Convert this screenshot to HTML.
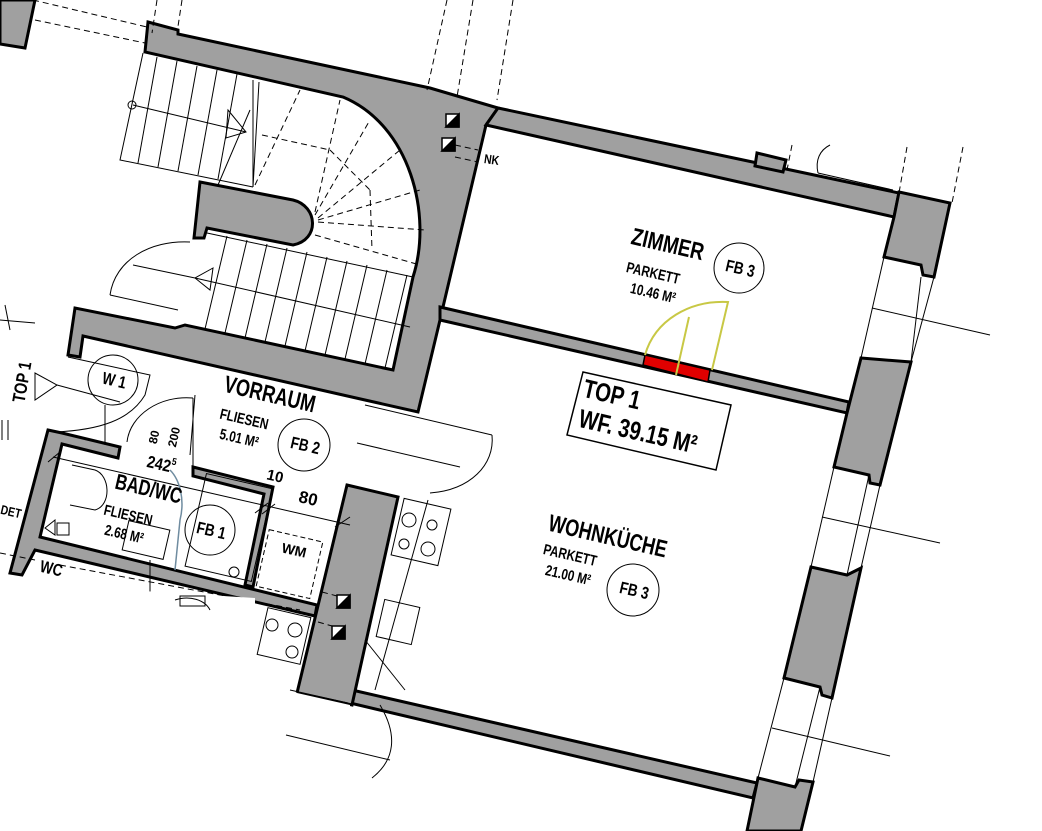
<!DOCTYPE html>
<html><head><meta charset="utf-8"><style>
html,body{margin:0;padding:0;background:#fff;}
svg{display:block;}
text{font-family:"Liberation Sans Narrow","Liberation Sans",sans-serif;font-weight:bold;fill:#000;}
</style></head><body>
<svg width="1042" height="831" viewBox="0 0 1042 831" xmlns="http://www.w3.org/2000/svg">
<g fill="#a0a0a0" stroke="#000" stroke-width="3" stroke-linejoin="miter">
<polygon points="0,0 35,0 25,48 0,44"/>
<path d="M148,22 L178,30 L178,34 L430,88 L498,108 L486,125 L443,307 L440,320 L418,412 L365,400 L83,336 L80,357 L68,355 L75,308 L175,328 L185,325 L393,370 L413,277 C433,215 410,125 343,97 L145,52 Z"/>
<polygon points="498,108 899,193 894,217 486,125"/>
<polygon points="899,192 950,203 934,277 923,275 921,265 884,257 894,217"/>
<polygon points="440,307 849,402 847,413 440,320"/>
<polygon points="861,358 911,362 880,485 870,483 869,475 834,467 847,413"/>
<polygon points="811,567 847,575 861,568 832,698 822,695 820,687 784,678"/>
<polygon points="352,690 757,783 753,798 350,703"/>
<polygon points="758,778 795,787 799,780 813,782 801,831 747,831"/>
<path d="M200,182 L293,200 C318,206 320,240 293,245 L207,228 L204,238 L194,238 Z"/>
<polygon points="347,485 398,497 352,705 297,693"/>
<polygon points="48,430 62,433 120,447 118,458 62,444 40,537 317,605 315,616 35,550 22,575 10,573"/>
<polygon points="193,467 273,487 253,587 245,585 264,494 193,476"/>
<polygon points="757,153 786,160 783,172 755,166"/>
</g>
<g stroke="#000" stroke-width="1.5">
<rect x="446" y="114" width="13" height="13" fill="#fff"/><polygon points="446,127 459,114 459,127" fill="#000"/>
<rect x="442" y="138" width="13" height="13" fill="#fff"/><polygon points="442,151 455,138 455,151" fill="#000"/>
<rect x="337" y="595" width="13" height="13" fill="#fff"/><polygon points="337,608 350,595 350,608" fill="#000"/>
<rect x="332" y="626" width="13" height="13" fill="#fff"/><polygon points="332,639 345,626 345,639" fill="#000"/>
</g>
<polygon points="645,355 710,370 708,382 643,365" fill="#e00000" stroke="#000" stroke-width="1.5"/>
<g fill="none" stroke="#c8c845" stroke-width="2">
<path d="M645,355 C655,320 690,300 728,302 L712,370"/>
<line x1="689" y1="317" x2="676" y2="375"/>
</g>
<g fill="none" stroke="#000" stroke-width="1">
<polyline points="143,53 120,160 253,187"/>
<line x1="157" y1="57" x2="138" y2="163"/><line x1="177" y1="61" x2="158" y2="167"/>
<line x1="197" y1="66" x2="178" y2="171"/><line x1="217" y1="70" x2="198" y2="175"/>
<line x1="237" y1="74" x2="218" y2="179"/><line x1="253" y1="80" x2="253" y2="187"/>
<line x1="259" y1="82" x2="253" y2="187"/>
<line x1="133" y1="105" x2="246" y2="132"/><polygon points="228,110 246,132 226,138"/>
<circle cx="132" cy="105" r="4"/>
<line x1="250" y1="110" x2="218" y2="185"/>
<line x1="207" y1="233" x2="413" y2="277"/>
<line x1="227" y1="236" x2="205" y2="329"/><line x1="247" y1="240" x2="225" y2="333"/>
<line x1="267" y1="244" x2="245" y2="338"/><line x1="287" y1="248" x2="265" y2="342"/>
<line x1="307" y1="252" x2="285" y2="346"/><line x1="327" y1="257" x2="305" y2="351"/>
<line x1="347" y1="261" x2="325" y2="355"/><line x1="367" y1="265" x2="345" y2="359"/>
<line x1="387" y1="270" x2="365" y2="364"/><line x1="407" y1="275" x2="385" y2="368"/>
<line x1="195" y1="278" x2="410" y2="327"/><polygon points="213,268 195,278 210,290"/>
<path d="M110,295 C115,260 150,240 190,242"/><line x1="110" y1="295" x2="178" y2="310"/>
<line x1="133" y1="265" x2="195" y2="278"/>
<line x1="365" y1="405" x2="492" y2="435"/><path d="M492,435 C495,465 470,490 430,493"/>
<line x1="357" y1="443" x2="460" y2="467"/>
<path d="M127,442 C130,415 160,395 193,398"/><line x1="193" y1="398" x2="193" y2="468"/>
<path d="M68,357 L150,375 L145,395 C130,420 100,430 55,432"/>
<line x1="105" y1="405" x2="105" y2="445"/>
<polygon points="35,373 35,400 57,385"/><line x1="57" y1="385" x2="120" y2="402"/>
<line x1="5" y1="305" x2="10" y2="330"/><line x1="0" y1="320" x2="35" y2="323"/>
<line x1="2" y1="420" x2="2" y2="440"/><line x1="8" y1="420" x2="8" y2="440"/>
<line x1="53" y1="457" x2="350" y2="525"/>
<line x1="48" y1="462" x2="60" y2="452"/><line x1="255" y1="513" x2="268" y2="503"/>
<line x1="262" y1="514" x2="275" y2="504"/><line x1="335" y1="527" x2="350" y2="517"/>
<line x1="195" y1="395" x2="190" y2="455"/>
<rect x="195" y="480" width="68" height="95" transform="rotate(13 229 527)"/>
<circle cx="234" cy="572" r="5"/>
<path d="M72,465 L95,470 C110,475 112,505 95,510 L70,505"/>
<rect x="125" y="525" width="42" height="30" transform="rotate(13 146 540)"/>
<polygon points="45,528 55,520 55,535"/>
<rect x="57" y="523" width="12" height="12"/>
<path d="M170,470 C180,480 185,500 180,520 L175,570" stroke="#6f8ca0" stroke-width="1.5"/>
<rect x="262" y="535" width="55" height="58" stroke-dasharray="5,3" transform="rotate(13 289 564)"/>
<rect x="397" y="503" width="48" height="58" transform="rotate(13 421 532)"/>
<circle cx="409" cy="520" r="7"/><circle cx="432" cy="525" r="5"/><circle cx="404" cy="544" r="5"/><circle cx="428" cy="549" r="7"/>
<rect x="380" y="603" width="36" height="38" transform="rotate(13 398 622)"/>
<polyline points="428,500 375,690"/>
<polyline points="365,640 405,690"/>
<g stroke-dasharray="6,4">
<line x1="315" y1="212" x2="340" y2="100"/><line x1="315" y1="215" x2="370" y2="120"/>
<line x1="318" y1="218" x2="400" y2="150"/><line x1="318" y1="220" x2="420" y2="190"/>
<line x1="318" y1="222" x2="425" y2="230"/><line x1="315" y1="235" x2="420" y2="265"/>
<line x1="262" y1="135" x2="330" y2="150"/><line x1="330" y1="150" x2="370" y2="190"/>
<line x1="370" y1="190" x2="372" y2="250"/>
<line x1="255" y1="185" x2="300" y2="90"/>
<line x1="33" y1="0" x2="147" y2="27"/><line x1="35" y1="20" x2="145" y2="43"/>
<line x1="157" y1="0" x2="152" y2="33"/><line x1="182" y1="0" x2="177" y2="33"/>
<line x1="447" y1="0" x2="427" y2="90"/><line x1="473" y1="0" x2="457" y2="97"/><line x1="513" y1="0" x2="497" y2="100"/>
<line x1="907" y1="147" x2="899" y2="193"/><line x1="963" y1="147" x2="952" y2="203"/>
<line x1="792" y1="145" x2="787" y2="170"/>
<line x1="455" y1="145" x2="478" y2="150"/><line x1="455" y1="157" x2="478" y2="162"/>
<line x1="322" y1="592" x2="337" y2="596"/><line x1="318" y1="622" x2="332" y2="626"/>
<line x1="0" y1="553" x2="35" y2="560"/>
<line x1="60" y1="565" x2="300" y2="610"/>
</g>
<path d="M818,173 C815,160 820,150 830,145"/><line x1="818" y1="173" x2="893" y2="190"/>
<line x1="884" y1="257" x2="861" y2="358"/><line x1="921" y1="277" x2="911" y2="362"/>
<line x1="934" y1="277" x2="911" y2="362"/>
<line x1="872" y1="308" x2="990" y2="335"/>
<line x1="834" y1="467" x2="811" y2="567"/><line x1="869" y1="475" x2="847" y2="575"/><line x1="880" y1="485" x2="861" y2="568"/>
<line x1="822" y1="517" x2="940" y2="543"/>
<line x1="784" y1="678" x2="758" y2="778"/><line x1="820" y1="687" x2="795" y2="787"/><line x1="832" y1="698" x2="813" y2="782"/>
<line x1="772" y1="728" x2="890" y2="756"/>
<polygon points="583,372 731,405 716,470 567,435" stroke-width="1.5"/>
<circle cx="739" cy="268" r="25"/><circle cx="633" cy="590" r="26"/>
<circle cx="304" cy="445" r="26"/><circle cx="210" cy="530" r="25"/><circle cx="113" cy="380" r="25"/>
<line x1="150" y1="560" x2="150" y2="600"/>
</g>
<polygon points="0,582 255,598 255,665 297,693 350,705 345,831 0,831" fill="#fff"/>
<g stroke="#000" fill="none" stroke-width="1">
<rect x="262" y="612" width="44" height="48" transform="rotate(13 284 636)"/>
<circle cx="272" cy="625" r="6"/><circle cx="295" cy="630" r="7"/><circle cx="292" cy="652" r="6"/>
<path d="M175,600 C190,595 205,600 210,610"/><rect x="180" y="596" width="25" height="10"/>
<line x1="290" y1="690" x2="348" y2="703"/>
<path d="M380,705 C398,735 395,760 372,778"/><line x1="286" y1="735" x2="390" y2="760"/>
</g>
<g transform="translate(666,252) rotate(13)"><text text-anchor="middle" font-size="24" transform="scale(.78,1)">ZIMMER</text></g>
<g transform="translate(652,278) rotate(13)"><text text-anchor="middle" font-size="15" transform="scale(.78,1)" font-weight="normal">PARKETT</text></g>
<g transform="translate(652,298) rotate(13)"><text text-anchor="middle" font-size="15" transform="scale(.78,1)" font-weight="normal">10.46 M²</text></g>
<g transform="translate(739,274) rotate(13)"><text text-anchor="middle" font-size="17" transform="scale(.8,1)">FB 3</text></g>
<g transform="translate(610,403) rotate(13)"><text text-anchor="middle" font-size="26" transform="scale(.78,1)">TOP 1</text></g>
<g transform="translate(636,440) rotate(13)"><text text-anchor="middle" font-size="26" transform="scale(.78,1)">WF. 39.15 M²</text></g>
<g transform="translate(606,544) rotate(13)"><text text-anchor="middle" font-size="24" transform="scale(.75,1)">WOHNKÜCHE</text></g>
<g transform="translate(569,560) rotate(13)"><text text-anchor="middle" font-size="15" transform="scale(.78,1)" font-weight="normal">PARKETT</text></g>
<g transform="translate(567,580) rotate(13)"><text text-anchor="middle" font-size="15" transform="scale(.78,1)" font-weight="normal">21.00 M²</text></g>
<g transform="translate(633,596) rotate(13)"><text text-anchor="middle" font-size="17" transform="scale(.8,1)">FB 3</text></g>
<g transform="translate(268,402) rotate(13)"><text text-anchor="middle" font-size="24" transform="scale(.75,1)">VORRAUM</text></g>
<g transform="translate(243,424) rotate(13)"><text text-anchor="middle" font-size="15" transform="scale(.78,1)" font-weight="normal">FLIESEN</text></g>
<g transform="translate(238,443) rotate(13)"><text text-anchor="middle" font-size="15" transform="scale(.78,1)" font-weight="normal">5.01 M²</text></g>
<g transform="translate(304,451) rotate(13)"><text text-anchor="middle" font-size="17" transform="scale(.8,1)">FB 2</text></g>
<g transform="translate(147,496) rotate(13)"><text text-anchor="middle" font-size="22" transform="scale(.75,1)">BAD/WC</text></g>
<g transform="translate(127,520) rotate(13)"><text text-anchor="middle" font-size="15" transform="scale(.78,1)" font-weight="normal">FLIESEN</text></g>
<g transform="translate(123,539) rotate(13)"><text text-anchor="middle" font-size="15" transform="scale(.78,1)" font-weight="normal">2.68 M²</text></g>
<g transform="translate(210,536) rotate(13)"><text text-anchor="middle" font-size="17" transform="scale(.8,1)">FB 1</text></g>
<g transform="translate(113,386) rotate(13)"><text text-anchor="middle" font-size="17" transform="scale(.8,1)">W 1</text></g>
<g transform="translate(293,555) rotate(13)"><text text-anchor="middle" font-size="14" font-weight="normal">WM</text></g>
<g transform="translate(160,470) rotate(13)"><text text-anchor="middle" font-size="17" font-weight="normal" transform="scale(.85,1)">242<tspan font-size="10" dy="-8">5</tspan></text></g>
<g transform="translate(274,481) rotate(13)"><text text-anchor="middle" font-size="15" font-weight="normal">10</text></g>
<g transform="translate(307,504) rotate(13)"><text text-anchor="middle" font-size="17" font-weight="normal">80</text></g>
<g transform="translate(158,438) rotate(-77)"><text text-anchor="middle" font-size="12" font-weight="normal">80</text></g>
<g transform="translate(178,438) rotate(-77)"><text text-anchor="middle" font-size="12" font-weight="normal">200</text></g>
<g transform="translate(28,383) rotate(-80)"><text text-anchor="middle" font-size="18" transform="scale(.8,1)">TOP 1</text></g>
<g transform="translate(491,164) rotate(8)"><text text-anchor="middle" font-size="13" transform="scale(.8,1)">NK</text></g>
<g transform="translate(10,516) rotate(13)"><text text-anchor="middle" font-size="13" font-weight="normal" transform="scale(.8,1)">DET</text></g>
<g transform="translate(50,574) rotate(13)"><text text-anchor="middle" font-size="17" transform="scale(.8,1)">WC</text></g>
</svg>
</body></html>
